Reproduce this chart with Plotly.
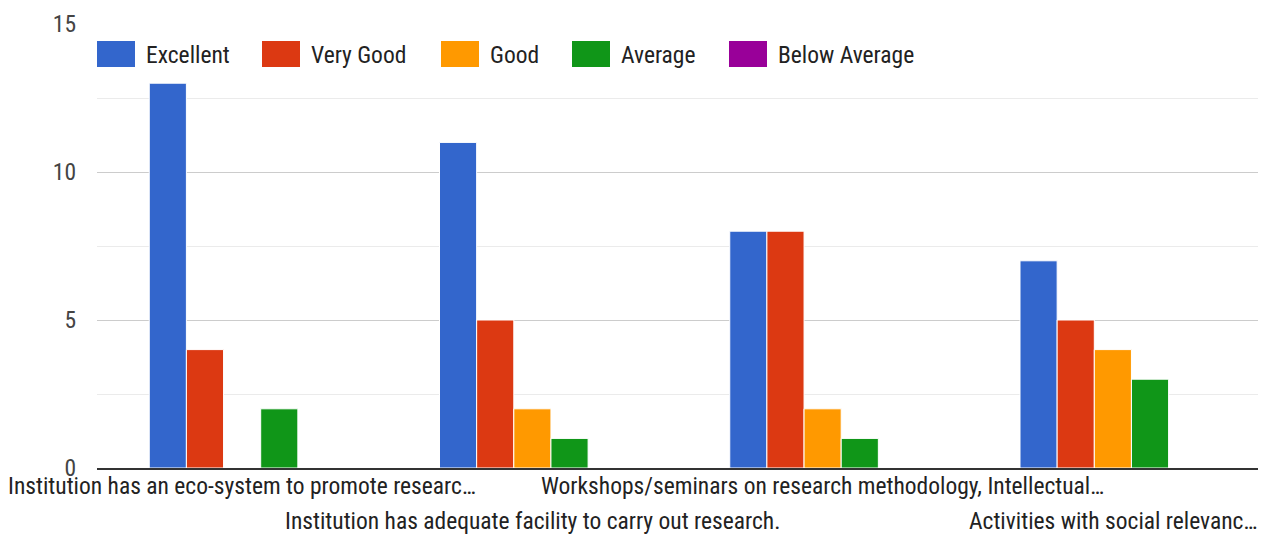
import plotly.graph_objects as go

categories = [
    "Institution has an eco-system to promote researc…",
    "Institution has adequate facility to carry out research.",
    "Workshops/seminars on research methodology, Intellectual…",
    "Activities with social relevanc…",
]
series_names = ["Excellent", "Very Good", "Good", "Average", "Below Average"]
excellent = [13, 11, 8, 7]
very_good = [4, 5, 8, 5]
good = [0, 2, 2, 4]
average = [2, 1, 1, 3]
below_average = [0, 0, 0, 0]
series_values = [excellent, very_good, good, average, below_average]
y_tick_values = [0, 5, 10, 15]
y_tick_labels = ["0", "5", "10", "15"]

colors = ["#3366CC", "#DC3912", "#FF9900", "#109618", "#990099"]
FONT = "Roboto Condensed, Roboto, sans-serif"
FS = 23.5
TXT = "#222222"
TICK_TXT = "#444444"

OFF = 8  # page body offset
W, H = 1272 - OFF, 542 - OFF
L = 97 - OFF
T = 24 - OFF
R = W - (1258 - OFF)
B = H - (468 - OFF)
PW, PH = W - L - R, H - T - B

def px_x(px):
    return (px - OFF - L) / PW

def px_y(py):
    return (468 - py) / PH

fig = go.Figure()
for name, vals, col in zip(series_names, series_values, colors):
    fig.add_trace(go.Bar(
        x=list(range(len(categories))), y=vals, name=name,
        marker=dict(color=col, line=dict(color="white", width=1)),
        showlegend=False,
    ))

legend_box_px = [97, 262, 441, 572, 729]
shapes = []
annotations = []
for name, col, bx in zip(series_names, colors, legend_box_px):
    shapes.append(dict(type="rect", xref="paper", yref="paper",
                       x0=px_x(bx), x1=px_x(bx + 38), y0=px_y(67), y1=px_y(41),
                       fillcolor=col, line=dict(width=0), layer="above"))
    annotations.append(dict(xref="paper", yref="paper", x=px_x(bx + 47), y=px_y(55),
                            xanchor="left", yanchor="middle", showarrow=False,
                            text=name, font=dict(family=FONT, size=FS, color=TXT)))

for i, cat in enumerate(categories):
    row_y = 486 if i % 2 == 0 else 521
    annotations.append(dict(xref="x", yref="paper", x=i, y=px_y(row_y),
                            xanchor="center", yanchor="middle", showarrow=False,
                            text=cat, font=dict(family=FONT, size=FS, color=TXT)))

fig.update_layout(
    width=W, height=H,
    margin=dict(l=L, r=R, t=T, b=B, pad=0, autoexpand=False),
    paper_bgcolor="white", plot_bgcolor="white",
    barmode="group", bargap=0.36, bargroupgap=0,
    shapes=shapes, annotations=annotations,
    font=dict(family=FONT, size=FS, color=TXT),
)
fig.update_xaxes(
    range=[-0.5, len(categories) - 0.5], showticklabels=False, showgrid=False,
    zeroline=False, showline=True, linecolor="#333333", linewidth=2, ticks="",
    automargin=False,
)
fig.update_yaxes(
    range=[0, 15], tickvals=y_tick_values, ticktext=y_tick_labels,
    showgrid=True, gridcolor="#cccccc", gridwidth=1,
    minor=dict(dtick=2.5, tick0=0, showgrid=True, gridcolor="#ebebeb", gridwidth=1),
    zeroline=False, showline=False, ticks="", ticklabelstandoff=20,
    tickfont=dict(family=FONT, size=FS, color=TICK_TXT),
    automargin=False,
)

fig.write_html("out.html")
